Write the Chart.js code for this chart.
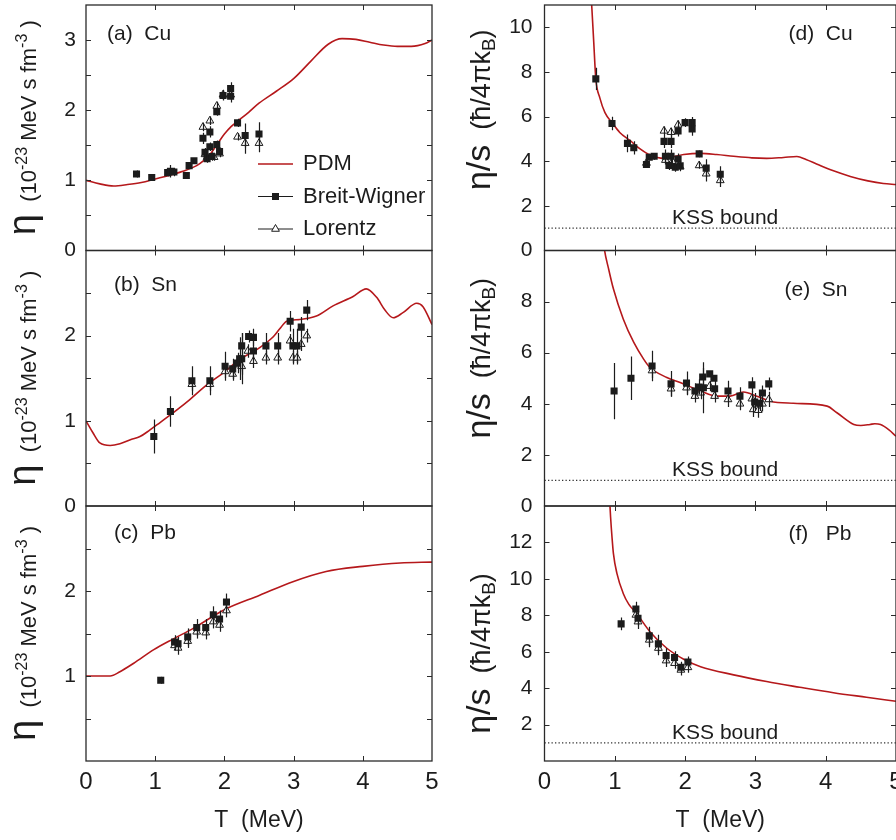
<!DOCTYPE html>
<html>
<head>
<meta charset="utf-8">
<script src="https://cdn.jsdelivr.net/npm/chart.js@4.4.1/dist/chart.umd.min.js"></script>
<style>
  body { margin: 0; background: #fff; }
  canvas { position: absolute; left: 0; top: 0; }
</style>
</head>
<body>
<script>
/* temperature axis */
var T_TICKS = [0, 1, 2, 3, 4, 5];
var KSS_T = [0, 5];
var KSS_Y = [1, 1];

/* (a) Cu, eta */
var cuEtaPdmT = [0, 0.2, 0.4, 0.6, 0.8, 1.0, 1.2, 1.4, 1.6, 1.7, 1.8, 1.9, 2.0, 2.1, 2.2, 2.35, 2.5, 2.75, 3.0, 3.25, 3.5, 3.7, 3.9, 4.1, 4.3, 4.5, 4.7, 4.9, 5.0];
var cuEtaPdm  = [1.00, 0.95, 0.92, 0.94, 0.97, 1.02, 1.07, 1.13, 1.21, 1.28, 1.38, 1.52, 1.66, 1.77, 1.85, 1.97, 2.10, 2.27, 2.45, 2.70, 2.94, 3.02, 3.01, 2.97, 2.93, 2.91, 2.91, 2.95, 3.00];
var cuEtaBwT  = [0.73, 0.95, 1.18, 1.22, 1.27, 1.45, 1.49, 1.56, 1.69, 1.72, 1.75, 1.79, 1.79, 1.82, 1.89, 1.89, 1.93, 1.98, 2.09, 2.09, 2.19, 2.30, 2.50];
var cuEtaBw   = [1.09, 1.04, 1.11, 1.13, 1.12, 1.07, 1.21, 1.28, 1.60, 1.40, 1.31, 1.69, 1.48, 1.34, 1.98, 1.51, 1.41, 2.21, 2.31, 2.20, 1.82, 1.64, 1.66];
var cuEtaBwErr = [0.05, 0.04, 0.05, 0.09, 0.06, 0.04, 0.04, 0.04, 0.08, 0.06, 0.06, 0.08, 0.06, 0.06, 0.06, 0.06, 0.06, 0.07, 0.09, 0.09, 0.06, 0.17, 0.17];
var cuEtaLzT  = [1.69, 1.72, 1.75, 1.79, 1.85, 1.89, 1.93, 1.98, 2.09, 2.19, 2.30, 2.50];
var cuEtaLz   = [1.76, 1.37, 1.33, 1.85, 1.33, 2.06, 1.38, 2.22, 2.22, 1.62, 1.53, 1.53];
var cuEtaLzErr = [0.06, 0.05, 0.05, 0.06, 0.05, 0.06, 0.05, 0.07, 0.07, 0.05, 0.15, 0.13];

/* (b) Sn, eta */
var snEtaPdmT = [0, 0.1, 0.2, 0.35, 0.49, 0.65, 0.78, 0.92, 1.07, 1.3, 1.5, 1.74, 1.98, 2.22, 2.51, 2.71, 2.8, 2.9, 3.09, 3.33, 3.57, 3.86, 4.05, 4.2, 4.32, 4.44, 4.58, 4.78, 4.87, 5.0];
var snEtaPdm  = [1.0, 0.86, 0.74, 0.71, 0.73, 0.78, 0.815, 0.89, 0.98, 1.12, 1.25, 1.42, 1.56, 1.72, 1.86, 1.99, 2.08, 2.17, 2.19, 2.23, 2.35, 2.46, 2.55, 2.45, 2.30, 2.21, 2.27, 2.38, 2.34, 2.13];
var snEtaBwT  = [0.98, 1.22, 1.53, 1.79, 2.01, 2.12, 2.19, 2.22, 2.25, 2.25, 2.35, 2.42, 2.42, 2.60, 2.77, 2.95, 2.99, 3.05, 3.11, 3.19];
var snEtaBw   = [0.815, 1.11, 1.47, 1.47, 1.64, 1.61, 1.68, 1.73, 1.88, 1.73, 1.99, 1.98, 1.82, 1.88, 1.88, 2.17, 1.88, 1.88, 2.10, 2.30];
var snEtaBwErr = [0.2, 0.18, 0.17, 0.17, 0.17, 0.12, 0.12, 0.25, 0.15, 0.3, 0.07, 0.1, 0.12, 0.15, 0.15, 0.12, 0.2, 0.2, 0.12, 0.12];
var snEtaLzT  = [1.53, 1.79, 2.01, 2.12, 2.22, 2.25, 2.34, 2.42, 2.60, 2.77, 2.95, 2.99, 3.05, 3.11, 3.19];
var snEtaLz   = [1.43, 1.43, 1.58, 1.55, 1.66, 1.64, 1.82, 1.70, 1.74, 1.74, 1.94, 1.74, 1.74, 1.90, 2.00];
var snEtaLzErr = [0.08, 0.08, 0.08, 0.08, 0.08, 0.1, 0.08, 0.08, 0.08, 0.08, 0.08, 0.08, 0.08, 0.08, 0.08];

/* (c) Pb, eta */
var pbEtaPdmT = [0, 0.2, 0.35, 0.49, 0.69, 0.98, 1.27, 1.55, 2.0, 2.51, 2.99, 3.47, 4.0, 4.54, 5.0];
var pbEtaPdm  = [1.0, 1.0, 1.0, 1.05, 1.15, 1.31, 1.44, 1.56, 1.78, 1.95, 2.11, 2.23, 2.29, 2.33, 2.34];
var pbEtaBwT  = [1.08, 1.28, 1.33, 1.47, 1.60, 1.73, 1.84, 1.93, 2.03];
var pbEtaBw   = [0.95, 1.40, 1.38, 1.46, 1.57, 1.57, 1.72, 1.67, 1.87];
var pbEtaBwErr = [0.04, 0.08, 0.08, 0.1, 0.1, 0.1, 0.1, 0.1, 0.1];
var pbEtaLzT  = [1.28, 1.33, 1.47, 1.60, 1.73, 1.84, 1.93, 2.03];
var pbEtaLz   = [1.36, 1.33, 1.41, 1.52, 1.51, 1.64, 1.60, 1.77];
var pbEtaLzErr = [0.06, 0.08, 0.08, 0.08, 0.08, 0.08, 0.08, 0.08];

/* (d) Cu, eta/s */
var cuRatPdmT = [0.60, 0.64, 0.673, 0.70, 0.73, 0.787, 0.86, 0.97, 1.07, 1.22, 1.36, 1.50, 1.70, 1.98, 2.22, 2.45, 2.69, 2.95, 3.16, 3.4, 3.59, 3.72, 3.87, 4.1, 4.35, 4.6, 4.82, 5.0];
var cuRatPdm  = [16, 12.5, 10.9, 9.36, 7.69, 6.84, 6.18, 5.69, 5.29, 4.92, 4.55, 4.28, 4.13, 4.30, 4.35, 4.30, 4.22, 4.15, 4.13, 4.17, 4.21, 4.08, 3.88, 3.58, 3.32, 3.12, 3.00, 2.96];
var cuRatBwT  = [0.73, 0.96, 1.18, 1.27, 1.45, 1.49, 1.56, 1.70, 1.72, 1.77, 1.80, 1.80, 1.86, 1.90, 1.90, 1.93, 2.00, 2.10, 2.10, 2.20, 2.30, 2.50];
var cuRatBw   = [7.69, 5.69, 4.80, 4.60, 3.85, 4.18, 4.22, 4.89, 4.22, 3.81, 4.89, 4.22, 3.73, 5.36, 4.10, 3.80, 5.73, 5.73, 5.44, 4.33, 3.69, 3.42];
var cuRatBwErr = [0.5, 0.3, 0.4, 0.3, 0.15, 0.15, 0.15, 0.3, 0.3, 0.2, 0.3, 0.3, 0.2, 0.25, 0.25, 0.2, 0.2, 0.25, 0.3, 0.15, 0.4, 0.35];
var cuRatLzT  = [1.45, 1.70, 1.72, 1.80, 1.82, 1.90, 1.93, 2.20, 2.30, 2.50];
var cuRatLz   = [3.92, 5.36, 4.05, 5.30, 4.00, 5.63, 3.75, 3.81, 3.44, 3.14];
var cuRatLzErr = [0.15, 0.2, 0.2, 0.2, 0.2, 0.2, 0.2, 0.15, 0.35, 0.3];

/* (e) Sn, eta/s */
var snRatPdmT = [0.78, 0.85, 0.911, 0.98, 1.12, 1.27, 1.41, 1.50, 1.74, 1.93, 2.22, 2.45, 2.64, 2.83, 3.02, 3.21, 3.54, 4.02, 4.16, 4.40, 4.5, 4.63, 4.7, 4.78, 4.9, 5.0];
var snRatPdm  = [11.8, 10.08, 9.29, 8.5, 7.32, 6.40, 5.75, 5.42, 5.03, 4.83, 4.50, 4.30, 4.30, 4.46, 4.30, 4.10, 4.02, 3.91, 3.65, 3.19, 3.15, 3.19, 3.22, 3.19, 2.98, 2.73];
var snRatBwT  = [0.99, 1.23, 1.53, 1.80, 2.02, 2.14, 2.20, 2.25, 2.26, 2.35, 2.41, 2.42, 2.61, 2.78, 2.95, 2.99, 3.06, 3.10, 3.19];
var snRatBw   = [4.50, 5.00, 5.48, 4.78, 4.81, 4.50, 4.66, 5.05, 4.63, 5.17, 5.00, 4.59, 4.50, 4.30, 4.74, 4.07, 4.02, 4.42, 4.78];
var snRatBwErr = [1.1, 0.85, 0.6, 0.5, 0.45, 0.3, 0.3, 0.35, 1.0, 0.1, 0.1, 0.35, 0.4, 0.35, 0.3, 0.35, 0.3, 0.3, 0.25];
var snRatLzT  = [1.53, 1.80, 2.02, 2.14, 2.22, 2.35, 2.42, 2.61, 2.78, 2.95, 2.97, 3.04, 3.10, 3.19];
var snRatLz   = [5.30, 4.59, 4.63, 4.30, 4.43, 4.69, 4.30, 4.17, 4.00, 4.20, 3.78, 3.75, 4.00, 4.17];
var snRatLzErr = [0.3, 0.3, 0.3, 0.25, 0.25, 0.2, 0.25, 0.3, 0.25, 0.3, 0.3, 0.3, 0.3, 0.3];

/* (f) Pb, eta/s */
var pbRatPdmT = [0.90, 0.92, 0.94, 0.96, 0.98, 1.03, 1.12, 1.2, 1.31, 1.5, 1.74, 1.98, 2.22, 2.69, 3.16, 3.63, 4.11, 4.58, 5.0];
var pbRatPdm  = [16.5, 14.8, 13.4, 12.3, 11.4, 10.3, 9.2, 8.6, 8.1, 7.1, 6.19, 5.59, 5.18, 4.73, 4.36, 4.05, 3.75, 3.50, 3.28];
var pbRatBwT  = [1.09, 1.30, 1.33, 1.49, 1.62, 1.73, 1.85, 1.94, 2.04];
var pbRatBw   = [7.53, 8.35, 7.84, 6.87, 6.43, 5.79, 5.68, 5.15, 5.44];
var pbRatBwErr = [0.35, 0.4, 0.4, 0.5, 0.5, 0.4, 0.35, 0.3, 0.3];
var pbRatLzT  = [1.30, 1.33, 1.49, 1.62, 1.73, 1.85, 1.94, 2.04];
var pbRatLz   = [8.02, 7.65, 6.65, 6.20, 5.51, 5.37, 5.00, 5.14];
var pbRatLzErr = [0.3, 0.4, 0.4, 0.4, 0.35, 0.3, 0.3, 0.3];

var FONT = '"Liberation Sans", Arial, Helvetica, sans-serif';
var RED = '#b5181b';
var INK = '#1c1c1c';
var W = 896, H = 840;

function pts(xs, ys) {
    return xs.map(function (x, i) { return {x: x, y: ys[i]}; });
}

/* error bars, drawn over the markers like the original */
var errorBars = {
    id: 'errorBars',
    afterDatasetsDraw: function (chart) {
        var ctx = chart.ctx, ca = chart.chartArea;
        var xs = chart.scales.x, ys = chart.scales.y;
        ctx.save();
        ctx.beginPath();
        ctx.rect(ca.left, ca.top, ca.right - ca.left, ca.bottom - ca.top);
        ctx.clip();
        ctx.strokeStyle = INK;
        ctx.lineWidth = 1.2;
        chart.data.datasets.forEach(function (ds) {
            if (!ds.errs) return;
            ds.data.forEach(function (p, i) {
                var px = Math.round(xs.getPixelForValue(p.x)) + 0.5;
                ctx.beginPath();
                ctx.moveTo(px, ys.getPixelForValue(p.y - ds.errs[i]));
                ctx.lineTo(px, ys.getPixelForValue(p.y + ds.errs[i]));
                ctx.stroke();
            });
        });
        ctx.restore();
    }
};

/* box with inward ticks on all four sides */
var frameTicks = {
    id: 'frameTicks',
    afterDatasetsDraw: function (chart) {
        var ctx = chart.ctx, ca = chart.chartArea;
        var xs = chart.scales.x, ys = chart.scales.y;
        var tl = 5;
        ctx.save();
        ctx.strokeStyle = '#2a2a2a';
        ctx.lineWidth = 1.3;
        ctx.strokeRect(ca.left, ca.top, ca.right - ca.left, ca.bottom - ca.top);
        ctx.lineWidth = 1;
        ctx.beginPath();
        T_TICKS.forEach(function (t) {
            if (t <= xs.min || t >= xs.max) return;
            var px = Math.round(xs.getPixelForValue(t)) + 0.5;
            ctx.moveTo(px, ca.bottom); ctx.lineTo(px, ca.bottom - tl);
            ctx.moveTo(px, ca.top); ctx.lineTo(px, ca.top + tl);
        });
        ys.ticks.forEach(function (tk) {
            if (tk.value <= ys.min || tk.value >= ys.max) return;
            var py = Math.round(ys.getPixelForValue(tk.value)) + 0.5;
            ctx.moveTo(ca.left, py); ctx.lineTo(ca.left + tl, py);
            ctx.moveTo(ca.right, py); ctx.lineTo(ca.right - tl, py);
        });
        ctx.stroke();
        ctx.restore();
    }
};

/* rotated y title built from pieces of different size */
function drawRich(ctx, segs, x, yc) {
    var total = 0;
    segs.forEach(function (s) {
        ctx.font = s.size + 'px ' + FONT;
        s.w = ctx.measureText(s.t).width;
        total += s.w;
    });
    ctx.save();
    ctx.translate(x, yc);
    ctx.rotate(-Math.PI / 2);
    ctx.fillStyle = INK;
    ctx.textAlign = 'left';
    ctx.textBaseline = 'alphabetic';
    var pos = -total / 2;
    segs.forEach(function (s) {
        ctx.font = s.size + 'px ' + FONT;
        ctx.fillText(s.t, pos, s.dy || 0);
        pos += s.w;
    });
    ctx.restore();
}

var ETA_TITLE = [
    {t: 'η', size: 38, dy: -1},
    {t: '  (', size: 22},
    {t: '10', size: 22},
    {t: '-23', size: 16, dy: -9},
    {t: ' MeV s fm', size: 22},
    {t: '-3', size: 16, dy: -9},
    {t: ' )', size: 22}
];
var RATIO_TITLE = [
    {t: 'η/s', size: 34},
    {t: '  (', size: 27},
    {t: 'ħ/4πk', size: 27},
    {t: 'B', size: 19, dy: 5},
    {t: ')', size: 27}
];

var annotations = {
    id: 'annotations',
    afterDraw: function (chart) {
        var o = chart.options.plugins.annotations;
        var ctx = chart.ctx, ca = chart.chartArea;
        var xs = chart.scales.x, ys = chart.scales.y;
        ctx.save();
        ctx.fillStyle = INK;
        ctx.textBaseline = 'middle';
        ctx.textAlign = 'left';
        ctx.font = '21px ' + FONT;
        ctx.fillText(o.label, ca.left + o.labelAt[0], ca.top + o.labelAt[1]);

        if (o.kss) {
            ctx.textAlign = 'center';
            ctx.textBaseline = 'alphabetic';
            ctx.font = '21px ' + FONT;
            ctx.fillText('KSS bound', xs.getPixelForValue(2.57), ys.getPixelForValue(1) - 4);
        }

        if (o.legend) {
            var rows = [['PDM', 'line'], ['Breit-Wigner', 'rect'], ['Lorentz', 'triangle']];
            ctx.font = '22px ' + FONT;
            ctx.textAlign = 'left';
            ctx.textBaseline = 'middle';
            rows.forEach(function (r, i) {
                var y = ca.top + 159 + i * 32.5;
                var x0 = ca.left + 172, x1 = ca.left + 207, xm = (x0 + x1) / 2;
                ctx.strokeStyle = r[1] === 'line' ? RED : INK;
                ctx.lineWidth = r[1] === 'line' ? 1.6 : 1;
                ctx.beginPath(); ctx.moveTo(x0, y); ctx.lineTo(x1, y); ctx.stroke();
                if (r[1] === 'rect') {
                    ctx.fillStyle = INK;
                    ctx.fillRect(xm - 3.5, y - 3.5, 7, 7);
                } else if (r[1] === 'triangle') {
                    ctx.fillStyle = '#fff';
                    ctx.lineWidth = 1;
                    ctx.beginPath();
                    ctx.moveTo(xm, y - 4.5);
                    ctx.lineTo(xm + 3.9, y + 2.25);
                    ctx.lineTo(xm - 3.9, y + 2.25);
                    ctx.closePath();
                    ctx.fill(); ctx.stroke();
                }
                ctx.fillStyle = INK;
                ctx.fillText(r[0], ca.left + 217, y);
            });
        }

        drawRich(ctx, o.title, o.titleX, (ca.top + ca.bottom) / 2 + o.titleShift);
        ctx.restore();
    }
};

function makePanel(p) {
    var cv = document.createElement('canvas');
    cv.width = W;
    cv.height = H;
    document.body.appendChild(cv);
    var a = p.area;               // left, top, right, bottom of the plot box
    var yW = 60;
    var xH = p.showX ? H - a[3] : 0;

    var datasets = [
        {
            data: pts(p.bwT, p.bw), errs: p.bwErr,
            pointStyle: 'rect', pointRadius: 5, backgroundColor: INK, borderColor: INK, borderWidth: 0
        },
        {
            data: pts(p.lzT, p.lz), errs: p.lzErr,
            pointStyle: 'triangle', pointRadius: 4.5, backgroundColor: '#fff', borderColor: INK, borderWidth: 1
        },
        {
            data: pts(p.pdmT, p.pdm), showLine: true, pointRadius: 0,
            borderColor: RED, borderWidth: 1.6, cubicInterpolationMode: 'monotone'
        }
    ];
    if (p.kss) {
        datasets.push({
            data: pts(KSS_T, KSS_Y), showLine: true, pointRadius: 0,
            borderColor: '#333', borderWidth: 1.2, borderDash: [1.3, 2.2]
        });
    }

    new Chart(cv.getContext('2d'), {
        type: 'scatter',
        data: {datasets: datasets},
        options: {
            responsive: false,
            animation: false,
            events: [],
            layout: {
                autoPadding: false,
                padding: {left: a[0] - yW, top: a[1], right: W - a[2], bottom: H - a[3] - xH}
            },
            plugins: {
                legend: {display: false},
                tooltip: {enabled: false},
                annotations: {
                    label: p.label, labelAt: p.labelAt, kss: p.kss, legend: p.legend,
                    title: p.title, titleX: p.titleX, titleShift: p.titleShift
                }
            },
            scales: {
                x: {
                    type: 'linear', min: 0, max: 5,
                    display: p.showX,
                    grid: {display: false, drawTicks: false},
                    border: {display: false},
                    ticks: {stepSize: 1, padding: 7, color: INK, maxRotation: 0, font: {family: FONT, size: 24}},
                    title: {display: true, text: 'T  (MeV)', color: INK, font: {family: FONT, size: 23}, padding: {top: 0, bottom: 6}},
                    afterFit: function (s) {
                        s.height = xH;
                        s.paddingLeft = 0; s.paddingRight = 0;
                    }
                },
                y: {
                    type: 'linear', min: 0, max: p.yMax,
                    grid: {display: false, drawTicks: false},
                    border: {display: false},
                    ticks: {
                        stepSize: p.yStep, autoSkip: false, includeBounds: false, padding: p.yPad, color: INK,
                        font: {family: FONT, size: 21},
                        callback: function (v) { return p.yLabels.indexOf(v) >= 0 ? String(v) : ''; }
                    },
                    afterFit: function (s) {
                        s.width = yW;
                        s.paddingTop = 0; s.paddingBottom = 0;
                    }
                }
            }
        },
        plugins: [errorBars, frameTicks, annotations]
    });
}

var LEFT = 86, LRIGHT = 432, RLEFT = 544.5, RRIGHT = 896;
var ROWS = [[5, 250.5], [250.5, 506], [506, 761]];

makePanel({
    area: [LEFT, ROWS[0][0], LRIGHT, ROWS[0][1]], showX: false,
    yMax: 3.5, yStep: 0.5, yLabels: [0, 1, 2, 3], yPad: 10,
    pdmT: cuEtaPdmT, pdm: cuEtaPdm, bwT: cuEtaBwT, bw: cuEtaBw, bwErr: cuEtaBwErr,
    lzT: cuEtaLzT, lz: cuEtaLz, lzErr: cuEtaLzErr,
    label: '(a)  Cu', labelAt: [21, 29], legend: true,
    title: ETA_TITLE, titleX: 36, titleShift: 0
});
makePanel({
    area: [LEFT, ROWS[1][0], LRIGHT, ROWS[1][1]], showX: false,
    yMax: 3, yStep: 0.5, yLabels: [0, 1, 2], yPad: 10,
    pdmT: snEtaPdmT, pdm: snEtaPdm, bwT: snEtaBwT, bw: snEtaBw, bwErr: snEtaBwErr,
    lzT: snEtaLzT, lz: snEtaLz, lzErr: snEtaLzErr,
    label: '(b)  Sn', labelAt: [28, 35],
    title: ETA_TITLE, titleX: 36, titleShift: 0
});
makePanel({
    area: [LEFT, ROWS[2][0], LRIGHT, ROWS[2][1]], showX: true,
    yMax: 3, yStep: 0.5, yLabels: [1, 2], yPad: 10,
    pdmT: pbEtaPdmT, pdm: pbEtaPdm, bwT: pbEtaBwT, bw: pbEtaBw, bwErr: pbEtaBwErr,
    lzT: pbEtaLzT, lz: pbEtaLz, lzErr: pbEtaLzErr,
    label: '(c)  Pb', labelAt: [28, 27],
    title: ETA_TITLE, titleX: 36, titleShift: 0
});
makePanel({
    area: [RLEFT, ROWS[0][0], RRIGHT, ROWS[0][1]], showX: false,
    yMax: 11, yStep: 2, yLabels: [0, 2, 4, 6, 8, 10], yPad: 12,
    pdmT: cuRatPdmT, pdm: cuRatPdm, bwT: cuRatBwT, bw: cuRatBw, bwErr: cuRatBwErr,
    lzT: cuRatLzT, lz: cuRatLz, lzErr: cuRatLzErr,
    label: '(d)  Cu', labelAt: [244, 29], kss: true,
    title: RATIO_TITLE, titleX: 490, titleShift: -18
});
makePanel({
    area: [RLEFT, ROWS[1][0], RRIGHT, ROWS[1][1]], showX: false,
    yMax: 10, yStep: 2, yLabels: [0, 2, 4, 6, 8], yPad: 12,
    pdmT: snRatPdmT, pdm: snRatPdm, bwT: snRatBwT, bw: snRatBw, bwErr: snRatBwErr,
    lzT: snRatLzT, lz: snRatLz, lzErr: snRatLzErr,
    label: '(e)  Sn', labelAt: [240, 40], kss: true,
    title: RATIO_TITLE, titleX: 490, titleShift: -20
});
makePanel({
    area: [RLEFT, ROWS[2][0], RRIGHT, ROWS[2][1]], showX: true,
    yMax: 14, yStep: 2, yLabels: [2, 4, 6, 8, 10, 12], yPad: 12,
    pdmT: pbRatPdmT, pdm: pbRatPdm, bwT: pbRatBwT, bw: pbRatBw, bwErr: pbRatBwErr,
    lzT: pbRatLzT, lz: pbRatLz, lzErr: pbRatLzErr,
    label: '(f)   Pb', labelAt: [244, 28], kss: true,
    title: RATIO_TITLE, titleX: 490, titleShift: 20
});
</script>
</body>
</html>
